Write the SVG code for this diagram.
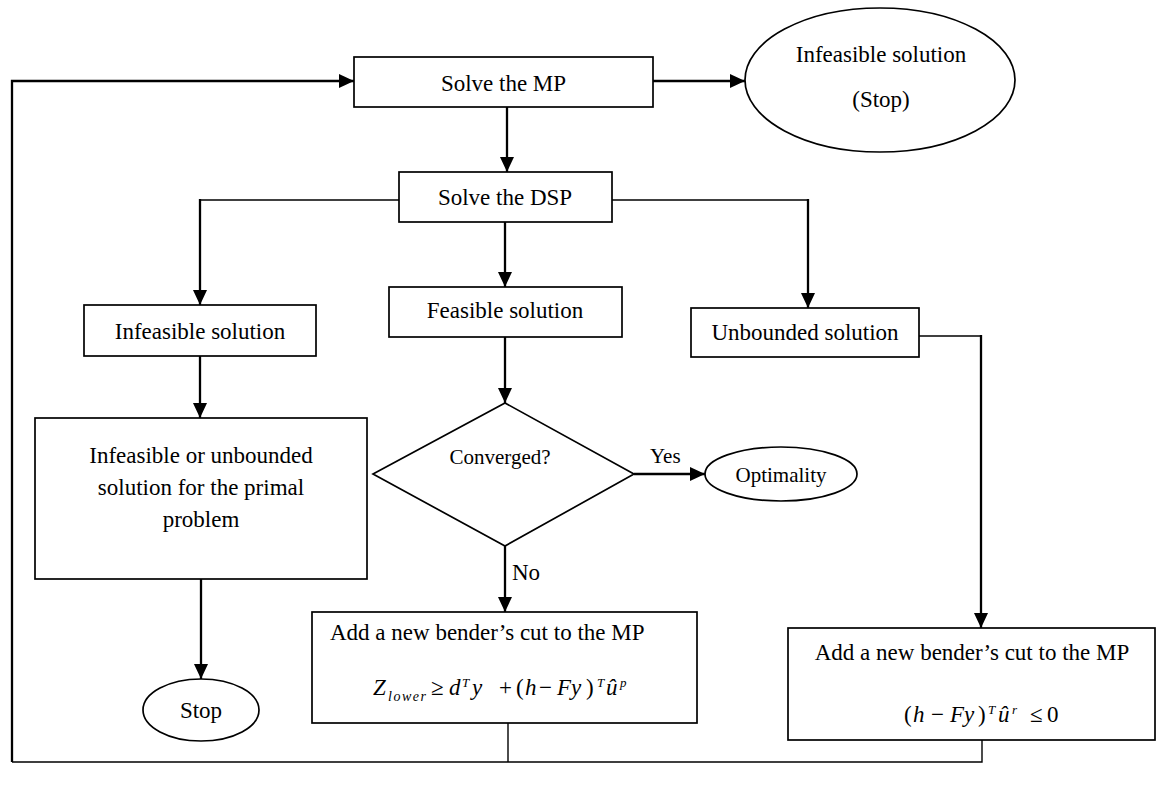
<svg xmlns="http://www.w3.org/2000/svg" width="1171" height="790" viewBox="0 0 1171 790">
<style>
.box{fill:#fff;stroke:#000;stroke-width:1.7}
.t{font-family:"Liberation Serif","Times New Roman",serif;font-size:23px;fill:#000}
.c{text-anchor:middle}
.s{font-size:21px}
.thick{fill:none;stroke:#000;stroke-width:2.3}
.thin{fill:none;stroke:#000;stroke-width:1.4}
.i{font-style:italic}
.sup{font-size:13px;font-style:italic}
.sub{font-size:14px;font-style:italic}
</style>
<defs>
<marker id="ah" markerWidth="15" markerHeight="14" refX="15" refY="7" orient="auto" markerUnits="userSpaceOnUse" viewBox="0 0 15 14"><path d="M0,0 L15,7 L0,14 z" fill="#000"/></marker>
</defs>
<rect width="1171" height="790" fill="#fff"/>
<g id="connectors">
<path class="thin" d="M508,723 V762"/>
<path class="thin" d="M982,740 V762 H12"/>
<path class="thick" d="M12,762 V81 H354" marker-end="url(#ah)"/>
<path class="thick" d="M653,81 H745" marker-end="url(#ah)"/>
<path class="thick" d="M507,107 V172" marker-end="url(#ah)"/>
<path class="thin" d="M399,200 H200"/>
<path class="thick" d="M200,199 V305" marker-end="url(#ah)"/>
<path class="thick" d="M505,222 V287" marker-end="url(#ah)"/>
<path class="thin" d="M612,200 H808"/>
<path class="thick" d="M808,199 V308" marker-end="url(#ah)"/>
<path class="thick" d="M200,356 V418" marker-end="url(#ah)"/>
<path class="thick" d="M505,337 V403" marker-end="url(#ah)"/>
<path class="thin" d="M919,336 H981"/>
<path class="thick" d="M981,335 V628" marker-end="url(#ah)"/>
<path class="thick" d="M634,474 H705" marker-end="url(#ah)"/>
<path class="thick" d="M505,546 V612" marker-end="url(#ah)"/>
<path class="thick" d="M201,579 V679" marker-end="url(#ah)"/>
<text class="t s" x="650" y="463">Yes</text>
<text class="t" x="512" y="580">No</text>
</g>
<g id="solve-mp">
<rect class="box" x="354" y="57" width="299" height="50"/>
<text class="t c" x="503.5" y="91">Solve the MP</text>
</g>
<g id="infeasible-stop">
<ellipse class="box" cx="880" cy="80" rx="135" ry="72"/>
<text class="t c" x="881" y="62">Infeasible solution</text>
<text class="t c" x="881" y="107">(Stop)</text>
</g>
<g id="solve-dsp">
<rect class="box" x="399" y="172" width="213" height="50"/>
<text class="t c" x="505" y="205">Solve the DSP</text>
</g>
<g id="infeasible">
<rect class="box" x="84" y="305" width="232" height="51"/>
<text class="t c" x="200" y="339">Infeasible solution</text>
</g>
<g id="feasible">
<rect class="box" x="389" y="287" width="233" height="50"/>
<text class="t c" x="505" y="318">Feasible solution</text>
</g>
<g id="unbounded">
<rect class="box" x="691" y="308" width="228" height="49"/>
<text class="t c" x="805" y="340">Unbounded solution</text>
</g>
<g id="primal">
<rect class="box" x="35" y="418" width="332" height="161"/>
<text class="t c" x="201" y="463">Infeasible or unbounded</text>
<text class="t c" x="201" y="495">solution for the primal</text>
<text class="t c" x="201" y="527">problem</text>
</g>
<g id="converged">
<polygon class="box" points="505,403 634,474 505,546 373,474"/>
<text class="t c s" x="500" y="464">Converged?</text>
</g>
<g id="optimality">
<ellipse class="box" cx="781" cy="474" rx="76" ry="27"/>
<text class="t c s" x="781" y="482">Optimality</text>
</g>
<g id="stop">
<ellipse class="box" cx="201" cy="710" rx="58" ry="31"/>
<text class="t c" x="201" y="718">Stop</text>
</g>
<g id="cut-feasible">
<rect class="box" x="312" y="612" width="385" height="111"/>
<text class="t" x="330" y="640">Add a new bender’s cut to the MP</text>
<text class="t"><tspan class="i" x="373" y="695">Z</tspan><tspan class="sub" x="388" y="701" textLength="38">lower</tspan><tspan x="431" y="695">≥</tspan><tspan class="i" x="449" y="695">d</tspan><tspan class="sup" x="462" y="687">T</tspan><tspan class="i" x="472" y="695">y</tspan><tspan x="499" y="695">+</tspan><tspan x="516" y="695">(</tspan><tspan class="i" x="525" y="695">h</tspan><tspan x="539" y="695">−</tspan><tspan class="i" x="557" y="695">Fy</tspan><tspan x="586" y="695">)</tspan><tspan class="sup" x="597" y="687">T</tspan><tspan class="i" x="606" y="695">û</tspan><tspan class="sup" x="620" y="687">p</tspan></text>
</g>
<g id="cut-unbounded">
<rect class="box" x="788" y="628" width="367" height="112"/>
<text class="t c" x="972" y="660">Add a new bender’s cut to the MP</text>
<text class="t"><tspan x="904" y="722">(</tspan><tspan class="i" x="913" y="722">h</tspan><tspan x="931" y="722">−</tspan><tspan class="i" x="950" y="722">Fy</tspan><tspan x="978" y="722">)</tspan><tspan class="sup" x="988" y="714">T</tspan><tspan class="i" x="998" y="722">û</tspan><tspan class="sup" x="1012" y="714">r</tspan><tspan x="1030" y="722">≤</tspan><tspan x="1047" y="722">0</tspan></text>
</g>
</svg>
